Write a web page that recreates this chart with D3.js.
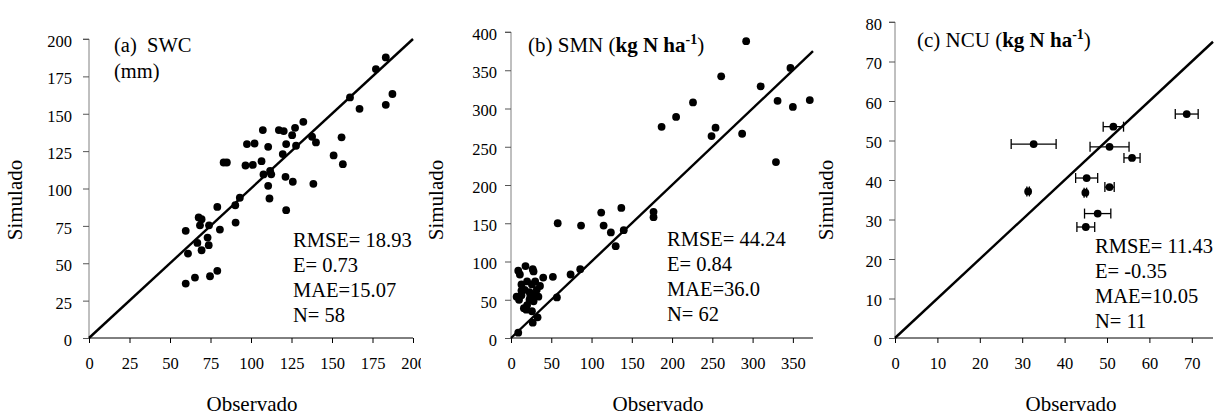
<!DOCTYPE html>
<html lang="en">
<head>
  <meta charset="UTF-8">
  <title>Observado vs Simulado</title>
  <script src="https://d3js.org/d3.v7.min.js"></script>
  <style>
    body { margin: 0; background: white; }
    svg text { fill: #000; }
  </style>
</head>
<body>
  <svg id="chart" width="1221" height="416" font-family="'Liberation Serif', 'Times New Roman', serif"></svg>

  <script>
    const serif = "'Liberation Serif', 'Times New Roman', serif";

    // (a) SWC
    const swcObs = [59.7, 65.4, 74.7, 79.2, 59.7, 61.1, 66.9, 67.7, 69.5, 68.5, 69.5, 73.2, 73.9, 74.1,
      79.2, 80.8, 90.3, 90.5, 93.1, 83.1, 85.1, 97.5, 102.2, 96.6, 101.1, 107.3, 106.5, 107.7,
      110.6, 110.6, 111.4, 111.8, 112.5, 117.2, 120.2, 119.6, 121.7, 121.3, 121.7, 125.4, 127.2,
      125.8, 127.8, 132.3, 137.7, 140.1, 138.5, 151.0, 155.9, 156.7, 161.1, 167.0, 177.1, 183.2,
      183.2, 187.3];
    const swcSim = [36.4, 40.4, 41.3, 44.9, 71.7, 56.5, 63.6, 80.6, 79.5, 75.4, 58.7, 67.2, 62.1, 75.4,
      87.7, 72.5, 88.8, 77.2, 93.8, 117.4, 117.4, 129.7, 130.1, 115.4, 115.8, 139.1, 118.3, 109.4,
      127.9, 101.8, 93.3, 111.8, 109.5, 139.1, 138.4, 123.0, 129.7, 107.8, 85.5, 135.7, 140.6,
      104.5, 128.6, 144.6, 134.6, 130.8, 103.1, 122.1, 134.2, 116.3, 160.9, 153.3, 179.9, 187.7,
      156.0, 163.2];

    // (b) SMN
    const smnObs = [292, 347, 310, 261, 226, 205, 187, 331, 350, 371, 254, 249, 287, 329, 177, 177,
      137, 112, 115, 124, 140, 130, 87, 58, 86, 74, 52, 57,
      9, 9, 11, 18, 27, 28, 40, 10, 13, 13, 20, 23, 16, 19, 26, 30, 32, 36, 34, 23, 28, 20, 26,
      27, 33, 13, 7, 17, 30, 24];
    const smnSim = [388, 353, 329, 342, 308, 289, 276, 310, 302, 311, 275, 264, 267, 230, 165, 158,
      170, 164, 147, 138, 141, 120, 147, 150, 90, 83, 80, 53,
      7, 88, 83, 94, 90, 87, 79, 50, 56, 70, 74, 60, 39, 37, 70, 74, 63, 68, 54, 50, 48, 43, 35,
      20, 27, 62, 54, 63, 57, 55];

    // (c) NCU
    const ncuObs = [68.8, 51.5, 32.7, 50.6, 55.9, 45.2, 50.6, 31.4, 44.9, 47.8, 45.0];
    const ncuSim = [56.7, 53.5, 49.1, 48.4, 45.6, 40.5, 38.2, 37.1, 36.8, 31.5, 28.1];
    const ncuErr = [2.7, 2.4, 5.3, 4.6, 1.9, 2.6, 1.1, 0.3, 0.3, 3.1, 2.1];

    const xTicksA = [0, 25, 50, 75, 100, 125, 150, 175, 200];
    const yTicksA = [0, 25, 50, 75, 100, 125, 150, 175, 200];
    const xTicksB = [0, 50, 100, 150, 200, 250, 300, 350];
    const yTicksB = [0, 50, 100, 150, 200, 250, 300, 350, 400];
    const xTicksC = [0, 10, 20, 30, 40, 50, 60, 70];
    const yTicksC = [0, 10, 20, 30, 40, 50, 60, 70, 80];

    const statsA = ["RMSE= 18.93", "E= 0.73", "MAE=15.07", "N= 58"];
    const statsB = ["RMSE= 44.24", "E= 0.84", "MAE=36.0", "N= 62"];
    const statsC = ["RMSE= 11.43", "E= -0.35", "MAE=10.05", "N= 11"];

    const svg = d3.select("#chart");

    svg.append("defs").append("clipPath").attr("id", "clipA")
      .append("rect").attr("x", 0).attr("y", 0).attr("width", 421).attr("height", 416);

    const panels = [
      { id: "a", obs: swcObs, sim: swcSim, err: null, xd: [0, 200], yd: [0, 200],
        xr: [89, 413], yr: [338, 39], xt: xTicksA, yt: yTicksA, stats: statsA, yPad: 11,
        statX: 293, statY: 247, yLabX: 22, xLabX: 252, clip: "url(#clipA)" },
      { id: "b", obs: smnObs, sim: smnSim, err: null, xd: [0, 375], yd: [0, 400],
        xr: [511, 813], yr: [338, 32], xt: xTicksB, yt: yTicksB, stats: statsB, yPad: 8,
        statX: 667, statY: 246, yLabX: 443, xLabX: 658, clip: null },
      { id: "c", obs: ncuObs, sim: ncuSim, err: ncuErr, xd: [0, 75], yd: [0, 80],
        xr: [895, 1213], yr: [338, 22], xt: xTicksC, yt: yTicksC, stats: statsC, yPad: 7,
        statX: 1095, statY: 253, yLabX: 833, xLabX: 1071, clip: null }
    ];

    panels.forEach(p => {
      const g = svg.append("g").attr("clip-path", p.clip);
      const x = d3.scaleLinear().domain(p.xd).range(p.xr);
      const y = d3.scaleLinear().domain(p.yd).range(p.yr);

      // y axis (grey line, outward ticks)
      const yAxis = g.append("g")
        .attr("transform", "translate(" + p.xr[0] + ",0)")
        .call(d3.axisLeft(y).tickValues(p.yt).tickSize(6).tickPadding(p.yPad));
      yAxis.attr("font-family", serif);
      yAxis.select(".domain").attr("stroke", "#808080").attr("d", "M0," + p.yr[0] + "V" + p.yr[1] + "H-6");
      yAxis.selectAll("line").attr("stroke", "#555");
      yAxis.selectAll("text").style("font-family", serif).style("font-size", "16.5px").attr("dy", "0.45em");

      // x axis (black line, ticks below)
      const xAxis = g.append("g")
        .attr("transform", "translate(0," + p.yr[0] + ")")
        .call(d3.axisBottom(x).tickValues(p.xt).tickSize(5).tickPadding(14));
      xAxis.attr("font-family", serif);
      xAxis.select(".domain").attr("stroke", "#000").attr("d", "M" + p.xr[0] + ",0H" + p.xr[1]);
      xAxis.selectAll("line").attr("stroke", "#000");
      xAxis.selectAll("text").style("font-family", serif).style("font-size", "16.5px");

      // 1:1 line
      const top = Math.min(p.xd[1], p.yd[1]);
      g.append("line")
        .attr("x1", x(0)).attr("y1", y(0))
        .attr("x2", x(top)).attr("y2", y(top))
        .attr("stroke", "#000").attr("stroke-width", 2.4);

      const pts = p.obs.map((v, i) => ({ o: v, s: p.sim[i], e: p.err ? p.err[i] : 0 }));

      if (p.err) {
        const eb = g.append("g").attr("stroke", "#000").attr("stroke-width", 1.3);
        pts.forEach(d => {
          eb.append("line").attr("x1", x(d.o - d.e)).attr("x2", x(d.o + d.e))
            .attr("y1", y(d.s)).attr("y2", y(d.s));
          [d.o - d.e, d.o + d.e].forEach(v => {
            eb.append("line").attr("x1", x(v)).attr("x2", x(v))
              .attr("y1", y(d.s) - 5).attr("y2", y(d.s) + 5);
          });
        });
      }

      g.selectAll("circle.pt").data(pts).enter().append("circle")
        .attr("class", "pt")
        .attr("cx", d => x(d.o)).attr("cy", d => y(d.s))
        .attr("r", 3.9).attr("fill", "#000");

      // stats
      g.append("g").selectAll("text").data(p.stats).enter().append("text")
        .attr("x", p.statX).attr("y", (d, i) => p.statY + i * 25)
        .style("font-family", serif)
        .style("font-size", "20.5px")
        .text(d => d);

      // axis labels
      svg.append("text")
        .attr("transform", "translate(" + p.yLabX + ",200) rotate(-90)")
        .attr("text-anchor", "middle")
        .style("font-family", serif)
        .style("font-size", "21px")
        .text("Simulado");
      svg.append("text")
        .attr("x", p.xLabX).attr("y", 411)
        .attr("text-anchor", "middle")
        .style("font-family", serif)
        .style("font-size", "21px")
        .text("Observado");
    });

    // panel titles
    svg.append("text").attr("x", 114).attr("y", 52)
      .style("font-family", serif).style("font-size", "20.5px").style("white-space", "pre")
      .text("(a)  SWC");
    svg.append("text").attr("x", 114).attr("y", 78)
      .style("font-family", serif).style("font-size", "20.5px").text("(mm)");

    function unitTitle(label, tx, ty) {
      const t = svg.append("text").attr("x", tx).attr("y", ty)
        .style("font-family", serif).style("font-size", "21px");
      t.append("tspan").text(label + " (");
      t.append("tspan").style("font-weight", "bold").text("kg N ha");
      t.append("tspan").style("font-weight", "bold").style("font-size", "14px")
        .attr("dy", -8).text("-1");
      t.append("tspan").attr("dy", 8).text(")");
    }
    unitTitle("(b) SMN", 528, 52);
    unitTitle("(c) NCU", 917, 47);
  </script>
</body>
</html>
